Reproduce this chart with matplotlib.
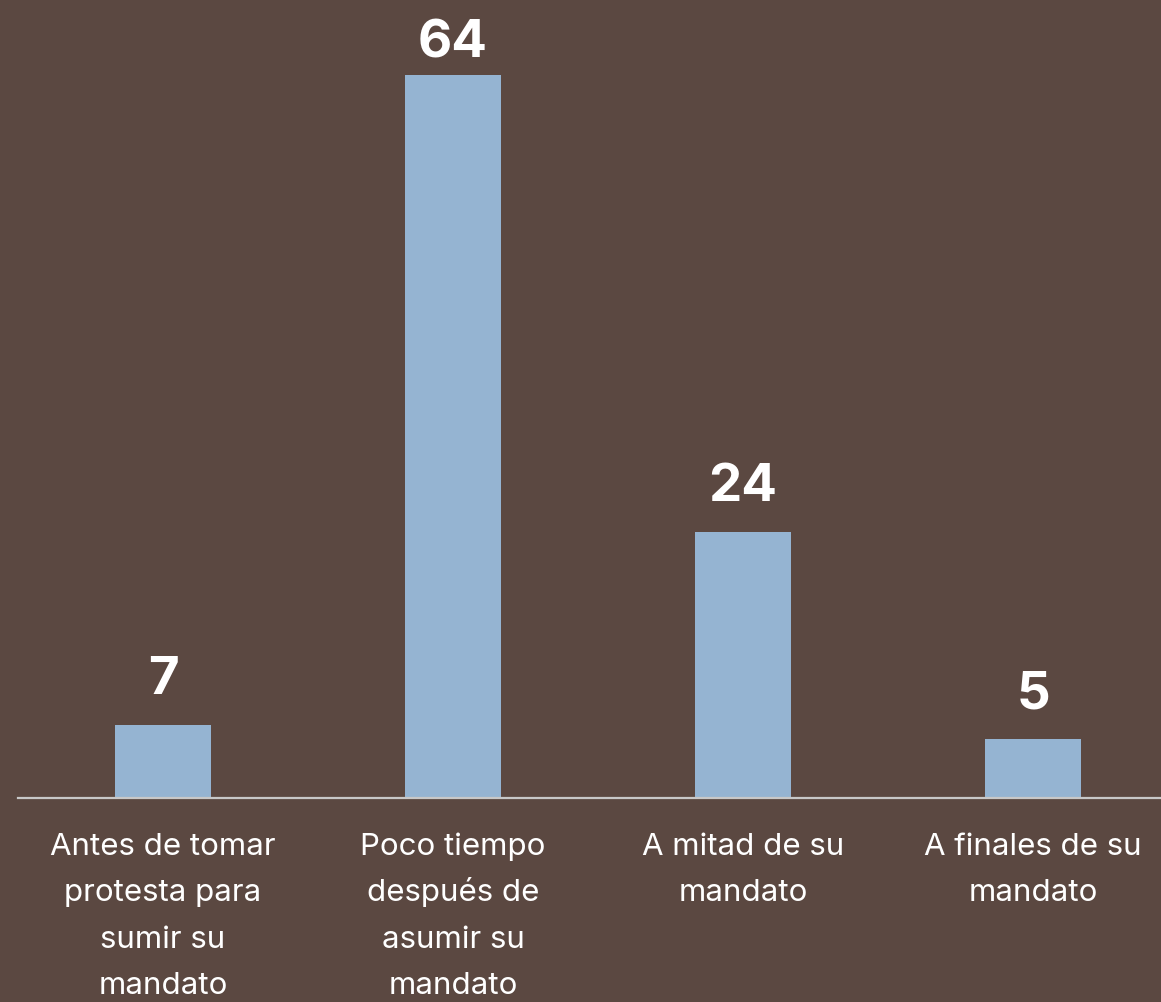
import matplotlib.pyplot as plt

categories = ["Antes de tomar\nprotesta para\nsumir su\nmandato",
              "Poco tiempo\ndespués de\nasumir su\nmandato",
              "A mitad de su\nmandato",
              "A finales de su\nmandato"]
values = [6.5, 64, 23.5, 5.2]
value_labels = ["7", "64", "24", "5"]

bg = "#5B4841"
bar_color = "#95B4D2"

fig = plt.figure(figsize=(11.61, 10.03), dpi=100, facecolor=bg)
# axes runs past the right edge, like the reference
ax = fig.add_axes([18 / 1161, 204 / 1003, 1160 / 1161, 795 / 1003])
ax.set_facecolor(bg)

x = range(len(values))
ax.bar(x, values, width=0.33, color=bar_color)
ax.set_xlim(-0.5, 3.5)
ax.set_ylim(0, 70.35)

fig_h = fig.get_size_inches()[1] * fig.dpi
for xi, v, lab in zip(x, values, value_labels):
    # label sits 32px above the bar, but is kept inside the figure
    top_px = ax.transData.transform((xi, v))[1]
    off = min(32, fig_h - 57 - top_px)
    ax.annotate(lab, (xi, v), xytext=(0, off), textcoords="offset pixels",
                ha="center", va="baseline", color="white", fontsize=38,
                fontweight="bold", family=["Inter", "DejaVu Sans"])

# category labels, one line at a time so the spacing stays even
for xi, cat in zip(x, categories):
    for i, line in enumerate(cat.split("\n")):
        ax.annotate(line, (xi, 0), xytext=(0, -56 - 46.5 * i),
                    textcoords="offset pixels", ha="center", va="baseline",
                    color="white", fontsize=22.5,
                    family=["Inter", "DejaVu Sans"], annotation_clip=False)

for s in ["top", "right", "left"]:
    ax.spines[s].set_visible(False)
ax.spines["bottom"].set_color("#C8C8C8")
ax.spines["bottom"].set_linewidth(1.6)
ax.set_yticks([])
ax.set_xticks([])

fig.savefig("out.png", dpi=100, facecolor=bg)
